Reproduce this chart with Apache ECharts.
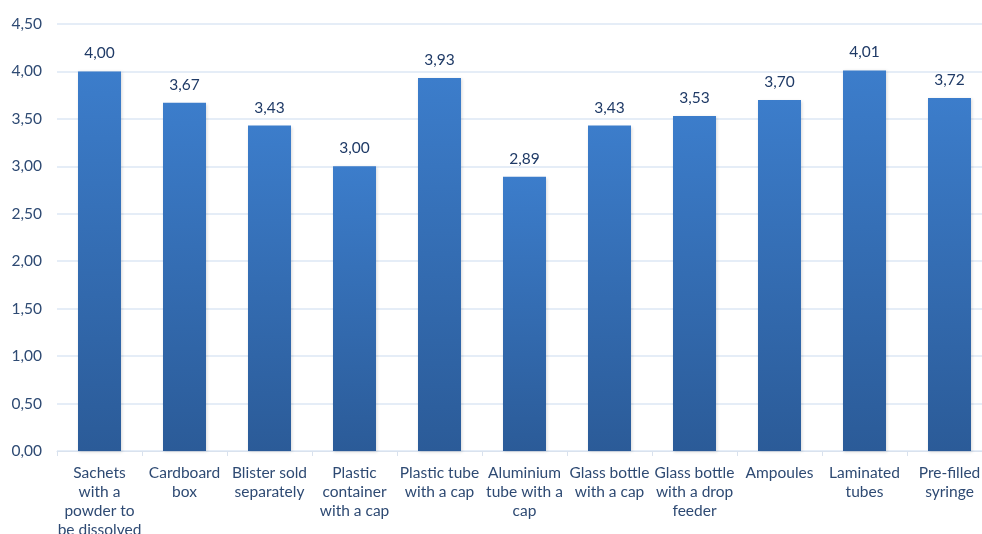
<!DOCTYPE html>
<html><head><meta charset="utf-8">
<script src="https://cdn.jsdelivr.net/npm/echarts@6/dist/echarts.min.js"></script>
<style>html,body{margin:0;padding:0;background:#fff}#c{width:982px;height:534px}</style>
</head><body><div id="c"></div>
<script>
const categories = ["Sachets\nwith a\npowder to\nbe dissolved","Cardboard\nbox","Blister sold\nseparately","Plastic\ncontainer\nwith a cap","Plastic tube\nwith a cap","Aluminium\ntube with a\ncap","Glass bottle\nwith a cap","Glass bottle\nwith a drop\nfeeder","Ampoules","Laminated\ntubes","Pre-filled\nsyringe"];
const values = [4.00,3.67,3.43,3.00,3.93,2.89,3.43,3.53,3.70,4.01,3.72];
const fmt = v => Number(v).toFixed(2).replace('.', ',');
const chart = echarts.init(document.getElementById('c'));
chart.setOption({
  animation:false,
  grid:{left:57,right:-10,top:24,bottom:83,containLabel:false,outerBoundsMode:'none'},
  xAxis:{type:'category',data:categories,
    axisLine:{lineStyle:{color:'#D9E2EE'}},
    axisTick:{show:true,alignWithLabel:false,length:5,lineStyle:{color:'#D9E2EE'}},
    axisLabel:{interval:0,color:'#2E4A73',fontFamily:'Lato',fontSize:15.5,lineHeight:19,margin:12}},
  yAxis:{type:'value',min:0,max:4.5,interval:0.5,
    axisLine:{show:false},axisTick:{show:false},
    splitLine:{lineStyle:{color:'#DCE7F4',width:1.5}},
    axisLabel:{formatter:fmt,color:'#2E4A73',fontFamily:'Lato',fontSize:15.5,margin:15}},
  series:[{type:'bar',data:values,barWidth:43,
    itemStyle:{color:new echarts.graphic.LinearGradient(0,0,0,1,[{offset:0,color:'#3C7DCB'},{offset:1,color:'#2B5B98'}]),
      shadowColor:'rgba(0,0,0,0.15)',shadowBlur:3,shadowOffsetX:1,shadowOffsetY:1},
    label:{show:true,position:'top',distance:10,formatter:p=>fmt(p.value),color:'#1F3A66',fontFamily:'Lato',fontSize:15.5}}]
});
</script></body></html>
